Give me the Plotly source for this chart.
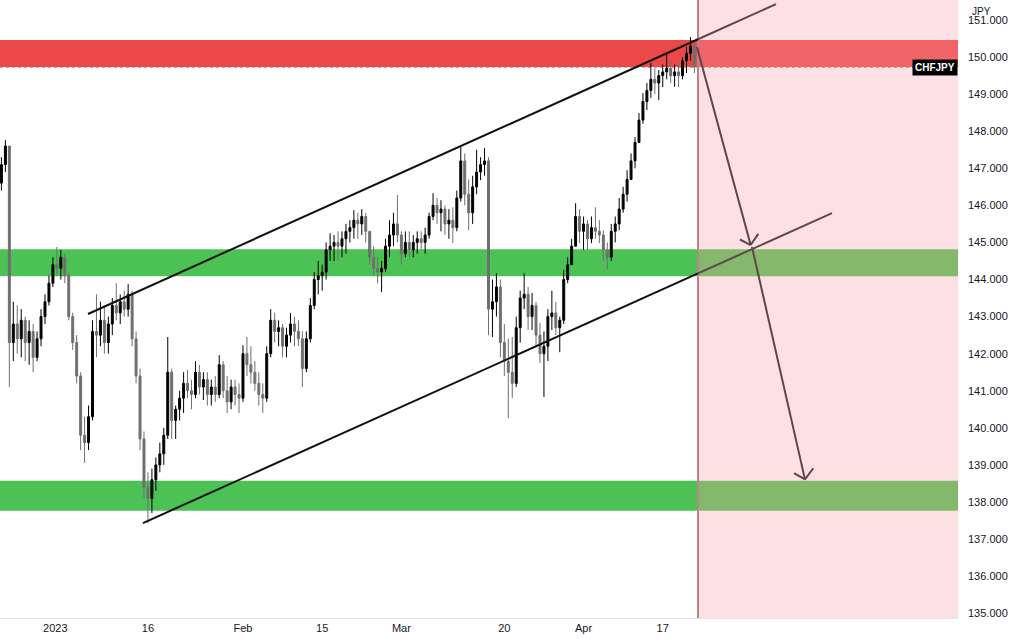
"""
CHFJPY rising channel chart, recreated with Plotly.
"""

import plotly.graph_objects as go

# ---- data -----------------------------------------------------------------
# bar positions are trading-day index (Feb 1 2023 = 0), half-day bars
bar_start = -30.5
bar_step = 0.5
first_open = 146.6

highs = [
    147.3, 147.76, 147.6, 143.4, 143.3, 143.2, 143.0, 142.9, 142.8, 142.6,
    143.2, 143.6, 144.1, 144.6, 144.88, 144.8, 144.7, 144.2, 143.1, 142.5,
    141.5, 140.3, 140.6, 142.9, 143.6, 143.4, 143.3, 143.0, 143.5, 143.9,
    143.6, 143.7, 143.88, 143.7, 142.6, 141.6, 139.9, 138.8, 138.9, 139.2,
    139.6, 140.0, 142.45, 141.6, 140.6, 141.0, 141.5, 141.56, 141.3, 141.8,
    141.7, 141.5, 141.5, 141.3, 141.4, 141.96, 141.8, 141.4, 141.3, 141.3,
    141.2, 142.23, 142.45, 142.2, 141.8, 141.5, 141.2, 142.2, 143.2, 143.1,
    142.9, 142.8, 142.7, 143.1, 143.0, 142.9, 142.6, 142.6, 143.5, 144.2,
    144.5, 144.4, 145.0, 145.25, 145.2, 145.3, 145.3, 145.5, 145.6, 145.87,
    145.8, 145.9, 145.8, 145.3, 144.9, 144.6, 144.5, 145.1, 145.6, 145.8,
    146.28, 145.3, 145.3, 145.3, 145.2, 145.3, 145.3, 145.4, 145.8, 146.33,
    146.2, 146.14, 146.0, 145.9, 145.95, 146.4, 147.57, 147.4, 146.7, 146.8,
    147.5, 147.3, 147.55, 147.3, 144.0, 144.17, 144.0, 142.8, 142.4, 142.45,
    143.0, 143.7, 144.17, 143.8, 143.64, 143.4, 142.83, 142.6, 143.2, 143.7,
    143.4, 143.0, 144.26, 144.6, 145.1, 146.06, 145.9, 145.7, 145.6, 145.7,
    145.95, 145.6, 145.33, 145.0, 145.5, 145.7, 146.2, 146.5, 146.95, 147.4,
    147.84, 148.49, 149.03, 149.3, 149.84, 149.7, 149.65, 149.8, 150.13, 149.92,
    149.8, 149.84, 150.0, 150.27, 150.54, 150.46,
]
lows = [
    146.4, 146.9, 141.1, 141.8, 142.0, 141.9, 141.8, 141.7, 141.5, 141.8,
    142.2, 142.8, 143.3, 143.8, 144.1, 144.0, 143.9, 142.9, 142.1, 141.2,
    139.4, 139.05, 139.4, 140.2, 141.9, 142.2, 142.0, 142.0, 142.5, 142.9,
    142.8, 143.0, 143.0, 142.2, 141.2, 139.4, 138.1, 137.43, 137.7, 138.3,
    138.8, 139.0, 139.7, 139.7, 139.7, 140.2, 140.4, 140.8, 140.5, 140.8,
    140.9, 140.75, 140.6, 140.6, 140.7, 140.8, 140.8, 140.4, 140.5, 140.6,
    140.4, 140.7, 141.4, 141.2, 141.0, 140.6, 140.4, 140.7, 141.9, 142.3,
    142.2, 141.9, 141.9, 142.3, 142.2, 142.2, 141.1, 141.5, 142.3, 143.2,
    143.6, 143.7, 144.0, 144.5, 144.5, 144.5, 144.6, 144.7, 145.0, 145.1,
    145.1, 145.2, 145.0, 144.4, 144.1, 143.9, 143.66, 144.2, 144.6, 144.9,
    145.0, 144.4, 144.6, 144.6, 144.6, 144.7, 144.8, 144.7, 145.1, 145.6,
    145.5, 145.3, 145.2, 145.1, 144.98, 145.3, 146.1, 146.0, 145.33, 145.5,
    146.3, 146.68, 146.8, 142.5, 142.45, 143.0, 141.9, 141.4, 140.26, 140.8,
    141.1, 142.3, 143.2, 142.64, 142.64, 142.2, 141.75, 140.83, 141.8, 142.64,
    142.5, 142.04, 142.8, 143.9, 144.4, 144.98, 144.98, 144.8, 144.8, 144.98,
    145.1, 144.98, 144.5, 144.28, 144.5, 145.0, 145.33, 145.8, 146.1, 146.68,
    147.0, 147.68, 148.2, 148.57, 148.9, 149.0, 148.84, 149.19, 149.4, 149.3,
    149.2, 149.19, 149.4, 149.57, 149.9, 149.57,
]
closes = [
    147.1, 147.6, 142.3, 142.8, 142.4, 142.9, 142.3, 142.6, 141.9, 142.4,
    143.0, 143.4, 143.9, 144.4, 144.3, 144.6, 144.1, 143.0, 142.3, 141.4,
    139.8, 139.6, 140.3, 142.6, 142.5, 142.9, 142.3, 142.8, 143.3, 143.1,
    143.4, 143.2, 143.6, 142.4, 141.4, 139.7, 138.4, 138.1, 138.6, 139.0,
    139.3, 139.8, 141.5, 140.2, 140.5, 140.8, 141.2, 141.0, 140.9, 141.5,
    141.1, 141.3, 140.9, 141.1, 140.9, 141.7, 141.0, 140.7, 141.1, 140.9,
    140.8, 142.0, 141.7, 141.5, 141.2, 140.9, 140.8, 142.0, 142.9, 142.6,
    142.7, 142.2, 142.5, 142.8, 142.6, 142.4, 141.6, 142.4, 143.3, 144.0,
    144.1, 144.2, 144.8, 144.9, 145.0, 144.9, 145.1, 145.3, 145.4, 145.6,
    145.5, 145.7, 145.3, 144.6, 144.3, 144.2, 144.3, 144.9, 145.2, 145.5,
    145.2, 144.7, 145.0, 144.8, 145.0, 145.1, 145.0, 145.2, 145.7, 146.0,
    145.8, 145.9, 145.5, 145.6, 145.4, 146.2, 147.2, 146.3, 145.8, 146.5,
    146.9, 147.1, 147.2, 143.2, 143.4, 143.8, 142.3, 141.8, 141.5, 141.2,
    142.7, 143.5, 143.6, 143.0, 143.3, 142.5, 142.0, 142.2, 143.0, 143.1,
    142.7, 142.9, 144.0, 144.4, 144.9, 145.7, 145.3, 145.5, 145.1, 145.4,
    145.3, 145.2, 144.8, 144.6, 145.3, 145.5, 145.9, 146.3, 146.7, 147.2,
    147.7, 148.3, 148.8, 149.1, 149.4, 149.3, 149.5, 149.6, 149.7, 149.5,
    149.6, 149.5, 149.9, 150.1, 150.3, 149.73,
]

# horizontal zones (price bottom, price top)
resistance_zone = (149.73, 150.46)
support_zone_1 = (144.09, 144.82)
support_zone_2 = (137.76, 138.57)

# channel drawings (x in trading-day index, y in price)
upper_channel = [(-19.57, 143.07), (67.30, 151.43)]
lower_channel = [(-12.63, 137.43), (74.37, 145.79)]

# projection arrows: shaft start, tip, two barb ends
arrow_1 = [(57.32, 150.27), (64.10, 144.93), (62.75, 145.08), (65.06, 145.23)]
arrow_2 = [(64.27, 144.88), (70.96, 138.61), (69.57, 138.78), (72.01, 138.91)]

forecast_start = 57.45
last_price = 149.73

tick_pos = [-23.7, -12, 0, 10, 20, 33, 43, 53]
tick_text = ["2023", "16", "Feb", "15", "Mar", "20", "Apr", "17"]
price_ticks = list(range(135, 152))

x_range = [-30.68, 90.28]
y_range = [134.87, 151.54]

# ---- figure ---------------------------------------------------------------
bar_x = [bar_start + bar_step * i for i in range(len(closes))]
opens = [first_open] + closes[:-1]

fig = go.Figure()
fig.add_trace(go.Candlestick(
    x=bar_x, open=opens, high=highs, low=lows, close=closes,
    increasing=dict(line=dict(color="#000000", width=1), fillcolor="#000000"),
    decreasing=dict(line=dict(color="#6f6f6f", width=1), fillcolor="#6f6f6f"),
    whiskerwidth=0,
    hoverinfo="skip",
    showlegend=False,
))

shapes = []
# pink forecast area
shapes.append(dict(type="rect", xref="x", yref="paper", x0=forecast_start, x1=x_range[1],
                   y0=0, y1=1, fillcolor="#fde0e4", line_width=0, layer="below"))
# zones, left (plain) part and right (forecast area) part
zones = [
    (resistance_zone, "#ec4848", "#f0646a"),
    (support_zone_1, "#4cc254", "#84b86c"),
    (support_zone_2, "#4cc254", "#84b86c"),
]
for (lo, hi), c_left, c_right in zones:
    shapes.append(dict(type="rect", xref="x", yref="y", x0=x_range[0], x1=forecast_start,
                       y0=lo, y1=hi, fillcolor=c_left, line_width=0, layer="below"))
    shapes.append(dict(type="rect", xref="x", yref="y", x0=forecast_start, x1=x_range[1],
                       y0=lo, y1=hi, fillcolor=c_right, line_width=0, layer="below"))

# last price dotted line
shapes.append(dict(type="line", xref="paper", yref="y", x0=0, x1=1, y0=last_price, y1=last_price,
                   line=dict(color="#9a7070", width=1, dash="dot"), layer="below"))
# forecast divider
shapes.append(dict(type="line", xref="x", yref="paper", x0=forecast_start, x1=forecast_start,
                   y0=0, y1=1, line=dict(color="#b8868c", width=2)))


def split_line(p0, p1, x_cut):
    """Split a channel line into the part before and after the forecast divider."""
    (xa, ya), (xb, yb) = p0, p1
    y_cut = ya + (yb - ya) * (x_cut - xa) / (xb - xa)
    return [(p0, (x_cut, y_cut), "#111111"), ((x_cut, y_cut), p1, "#5e464c")]


for p0, p1 in (upper_channel, lower_channel):
    for a, b, col in split_line(p0, p1, forecast_start):
        shapes.append(dict(type="line", xref="x", yref="y", x0=a[0], y0=a[1], x1=b[0], y1=b[1],
                           line=dict(color=col, width=2)))

for start, tip, barb_a, barb_b in (arrow_1, arrow_2):
    for a in (start, barb_a, barb_b):
        shapes.append(dict(type="line", xref="x", yref="y", x0=a[0], y0=a[1], x1=tip[0], y1=tip[1],
                           line=dict(color="#5e464c", width=2)))

fig.update_layout(
    width=1010,
    height=639,
    margin=dict(l=0, r=52, t=0, b=21),
    paper_bgcolor="#ffffff",
    plot_bgcolor="#ffffff",
    font=dict(family="Liberation Sans, Arial, sans-serif", size=11, color="#131722"),
    shapes=shapes,
    showlegend=False,
    xaxis=dict(
        range=x_range, rangeslider=dict(visible=False), showgrid=False, zeroline=False,
        tickvals=tick_pos, ticktext=tick_text, ticks="", showline=True,
        linecolor="#e0e3eb", linewidth=1, tickfont=dict(size=11, color="#131722"),
    ),
    yaxis=dict(
        range=y_range, side="right", showgrid=False, zeroline=False,
        tickvals=price_ticks, tickformat=".3f", ticks="", ticklabelstandoff=9,
        tickfont=dict(size=11, color="#131722"),
    ),
    annotations=[
        dict(text="JPY", xref="paper", yref="paper", x=1, y=1, xanchor="left", yanchor="top",
             xshift=12, yshift=-4, showarrow=False, font=dict(size=10, color="#131722")),
        dict(text="<b>CHFJPY</b>", xref="paper", yref="y", x=1, y=last_price,
             xanchor="right", yanchor="middle", showarrow=False, bgcolor="#000000",
             borderpad=2, font=dict(size=10, color="#ffffff")),
    ],
)

# the page body has a default margin; remove it so the chart fills the window exactly
fig.write_html(
    "out.html",
    config={"displayModeBar": False},
    post_script="document.body.style.margin='0';",
)
